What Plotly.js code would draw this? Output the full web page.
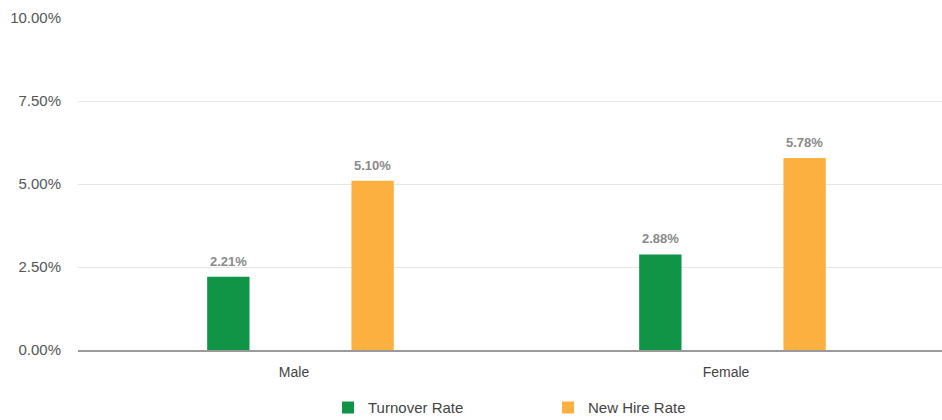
<!DOCTYPE html>
<html>
<head>
<meta charset="utf-8">
<script src="https://cdn.plot.ly/plotly-3.0.1.min.js"></script>
<style>html,body{margin:0;padding:0;background:#fff;}#chart{width:942px;height:420px;}</style>
</head>
<body>
<div id="chart"></div>
<script>
const categories = ["Male", "Female"];
const turnoverRate = [2.21, 2.88];
const newHireRate = [5.10, 5.78];
const seriesNames = ["Turnover Rate", "New Hire Rate"];
const yTicks = [0, 2.5, 5, 7.5, 10];
const yTickText = yTicks.map(v => v.toFixed(2) + "%");

const barWidth = 0.098;
const offsets = [-0.201, 0.133];
const colors = ["#109446", "#fbb040"];
const series = [turnoverRate, newHireRate];

const traces = series.map((vals, s) => ({
  type: "bar", name: seriesNames[s], x: categories, y: vals,
  marker: {color: colors[s]}, width: barWidth, offset: offsets[s],
  hoverinfo: "skip"
}));

const annotations = [];
series.forEach((vals, s) => {
  vals.forEach((v, i) => {
    annotations.push({
      x: i + offsets[s] + barWidth / 2, y: v, xref: "x", yref: "y",
      text: v.toFixed(2) + "%", showarrow: false, yanchor: "bottom", yshift: 6,
      font: {family: "Liberation Sans, Arial, sans-serif", size: 13, color: "#8a8a8a", weight: "bold"}
    });
  });
});

const layout = {
  width: 942, height: 420,
  margin: {l: 78, r: 0, t: 18, b: 70},
  paper_bgcolor: "#fff", plot_bgcolor: "#fff",
  font: {family: "Liberation Sans, Arial, sans-serif", size: 14, color: "#555"},
  showlegend: true,
  legend: {orientation: "h", x: 0.544, xanchor: "center", yref: "container", y: 0.029, yanchor: "middle",
           font: {size: 15, color: "#444"}, entrywidth: 175, itemwidth: 30},
  annotations: annotations,
  xaxis: {
    type: "category", range: [-0.5, 1.5], showgrid: false,
    showline: true, linecolor: "#9a9a9a", linewidth: 2,
    ticks: "outside", ticklen: 8, tickcolor: "rgba(0,0,0,0)",
    tickfont: {size: 14, color: "#444"}, zeroline: false, fixedrange: true
  },
  yaxis: {
    range: [0, 10], tickmode: "array", tickvals: yTicks, ticktext: yTickText,
    gridcolor: "#e6e6e6", gridwidth: 1, zeroline: false, showline: false,
    ticks: "outside", ticklen: 13, tickcolor: "rgba(0,0,0,0)",
    tickfont: {size: 15, color: "#555"}, fixedrange: true, automargin: false
  }
};

Plotly.newPlot("chart", traces, layout, {displayModeBar: false, staticPlot: true});
</script>
</body>
</html>
